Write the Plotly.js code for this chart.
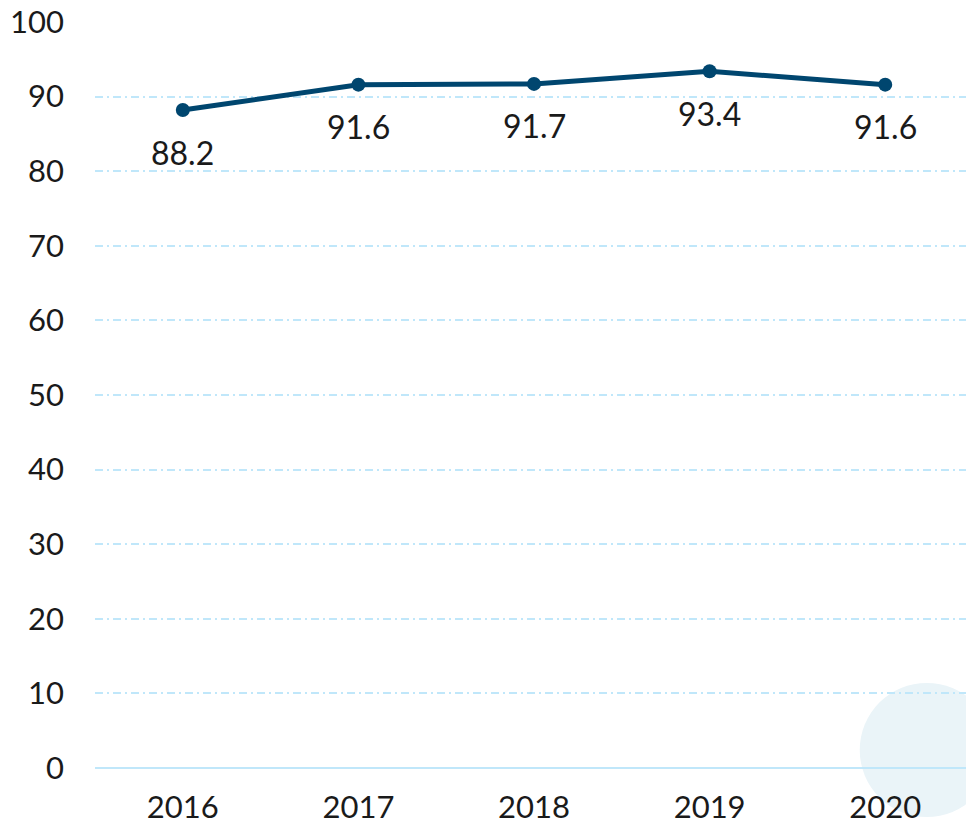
<!DOCTYPE html>
<html>
<head>
<meta charset="utf-8">
<script src="https://cdn.plot.ly/plotly-3.0.1.min.js"></script>
<style>html,body{margin:0;padding:0;background:#fff;}#chart{width:966px;height:825px;}</style>
</head>
<body>
<div id="chart"></div>
<script>
const years = ['2016', '2017', '2018', '2019', '2020'];
const values = [88.2, 91.6, 91.7, 93.4, 91.6];
const valueLabels = ['88.2', '91.6', '91.7', '93.4', '91.6'];
const yTicks = [0, 10, 20, 30, 40, 50, 60, 70, 80, 90, 100];

const font = 'Lato, "Noto Sans", sans-serif';
const textColor = '#1a1a1a';
const fw = 400;

const trace = {
  x: years,
  y: values,
  type: 'scatter',
  mode: 'lines+markers',
  line: {color: '#00466f', width: 5},
  marker: {color: '#00466f', size: 14},
  cliponaxis: false,
  hoverinfo: 'skip'
};

const labelAnnotations = years.map((yr, i) => ({
  x: i,
  y: values[i],
  xref: 'x', yref: 'y',
  text: valueLabels[i],
  showarrow: false,
  yshift: -42,
  font: {family: font, size: 32, color: textColor, weight: fw}
}));

const layout = {
  width: 966,
  height: 825,
  margin: {l: 95, r: 0, t: 22, b: 57},
  paper_bgcolor: '#ffffff',
  plot_bgcolor: 'rgba(0,0,0,0)',
  showlegend: false,
  font: {family: font, size: 31, color: textColor, weight: fw},
  xaxis: {
    type: 'category',
    range: [-0.5, 4.46],
    showgrid: false,
    zeroline: false,
    showline: false,
    ticks: '',
    ticklabelstandoff: 18,
    tickfont: {family: font, size: 31, color: textColor, weight: fw},
    fixedrange: true
  },
  yaxis: {
    range: [0, 100],
    tickvals: yTicks,
    showgrid: true,
    gridcolor: '#c0e7fa',
    griddash: '8px,4px,2px,4px',
    gridwidth: 2,
    zeroline: true,
    zerolinecolor: '#c0e7fa',
    zerolinewidth: 2,
    showline: false,
    ticks: '',
    ticklabelstandoff: 30,
    tickfont: {family: font, size: 31, color: textColor, weight: fw},
    fixedrange: true
  },
  annotations: labelAnnotations,
  shapes: [{
    type: 'circle',
    xref: 'paper', yref: 'paper',
    x0: 0.878, x1: 1.032,
    y0: -0.0657, y1: 0.114,
    fillcolor: '#eaf4f8',
    line: {width: 0},
    layer: 'below'
  }]
};

Plotly.newPlot('chart', [trace], layout, {displayModeBar: false, staticPlot: true});
</script>
</body>
</html>
